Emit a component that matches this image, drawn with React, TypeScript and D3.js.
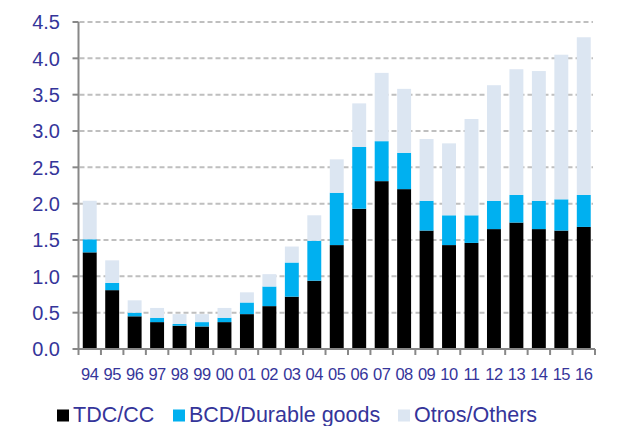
import React from "react";
import * as d3 from "d3";

const years = ["94","95","96","97","98","99","00","01","02","03","04","05","06","07","08","09","10","11","12","13","14","15","16"];
const tdc = [1.33,0.81,0.45,0.37,0.32,0.31,0.37,0.48,0.59,0.72,0.94,1.43,1.93,2.31,2.20,1.63,1.43,1.46,1.65,1.74,1.65,1.63,1.68];
const bcd = [0.18,0.10,0.05,0.06,0.025,0.06,0.06,0.16,0.27,0.47,0.55,0.72,0.85,0.55,0.50,0.41,0.41,0.38,0.39,0.38,0.39,0.43,0.44];
const otros = [0.53,0.31,0.17,0.135,0.135,0.11,0.135,0.14,0.17,0.22,0.35,0.46,0.60,0.94,0.88,0.85,0.99,1.325,1.59,1.73,1.785,1.99,2.17];
const yTicks = [0,0.5,1,1.5,2,2.5,3,3.5,4,4.5];
const seriesNames = ["TDC/CC","BCD/Durable goods","Otros/Others"];
const seriesColors = ["#000000","#00B0F0","#DCE6F2"];

export default function App() {
  const W = 629, H = 426;
  const left = 78.5, right = 595, top = 22, bottom = 349;
  const x = d3.scaleBand<string>().domain(years).range([left, right]).paddingInner(0.38).paddingOuter(0.19);
  const xb = d3.scaleBand<string>().domain(years).range([left, right]);
  const y = d3.scaleLinear().domain([0, 4.5]).range([bottom, top]);
  const rows = years.map((yr, i) => ({ yr, tdc: tdc[i], bcd: bcd[i], otros: otros[i] }));
  const stack = d3.stack<any>().keys(["tdc","bcd","otros"])(rows);
  const textColor = "#35359a";
  const font = "'Liberation Sans', Arial, sans-serif";
  const legendX = [57, 173, 398];
  return (
    <svg width={W} height={H} style={{ position: "absolute", left: 0, top: 0, background: "#fff" }}>
      {yTicks.filter(t => t > 0).map(t => (
        <line key={"g"+t} x1={left + 1} x2={593} y1={y(t)} y2={y(t)} stroke="#bfbfbf" strokeWidth={2} strokeDasharray="5,3" />
      ))}
      {stack.map((s, si) => (
        <g key={si} fill={seriesColors[si]}>
          {s.map((d, i) => (
            <rect key={i} x={x(years[i])} width={x.bandwidth()} y={y(d[1])} height={y(d[0]) - y(d[1])} />
          ))}
        </g>
      ))}
      <line x1={left} x2={left} y1={top} y2={bottom} stroke="#888" strokeWidth={2} />
      <line x1={left} x2={right} y1={bottom} y2={bottom} stroke="#888" strokeWidth={2} />
      {yTicks.map(t => (
        <g key={"t"+t}>
          <line x1={72.5} x2={left} y1={y(t)} y2={y(t)} stroke="#888" strokeWidth={2} />
          <text x={60} y={y(t)} dy="0.36em" textAnchor="end" fontFamily={font} fontSize={20} fill={textColor}>{t.toFixed(1)}</text>
        </g>
      ))}
      {years.map((yr, i) => (
        <line key={"xt"+i} x1={xb(yr)} x2={xb(yr)} y1={bottom} y2={bottom + 6} stroke="#888" strokeWidth={2} />
      ))}
      <line x1={right} x2={right} y1={bottom} y2={bottom + 6} stroke="#888" strokeWidth={2} />
      {years.map(yr => (
        <text key={"xl"+yr} x={xb(yr)! + xb.bandwidth() / 2} y={379.5} textAnchor="middle" fontFamily={font} fontSize={16.5} letterSpacing={-0.5} fill={textColor}>{yr}</text>
      ))}
      {seriesNames.map((n, i) => (
        <g key={"l"+i}>
          <rect x={legendX[i]} y={409.5} width={12} height={12} fill={seriesColors[i]} />
          <text x={legendX[i] + 16} y={421.5} fontFamily={font} fontSize={21.5} fill={textColor}>{n}</text>
        </g>
      ))}
    </svg>
  );
}
